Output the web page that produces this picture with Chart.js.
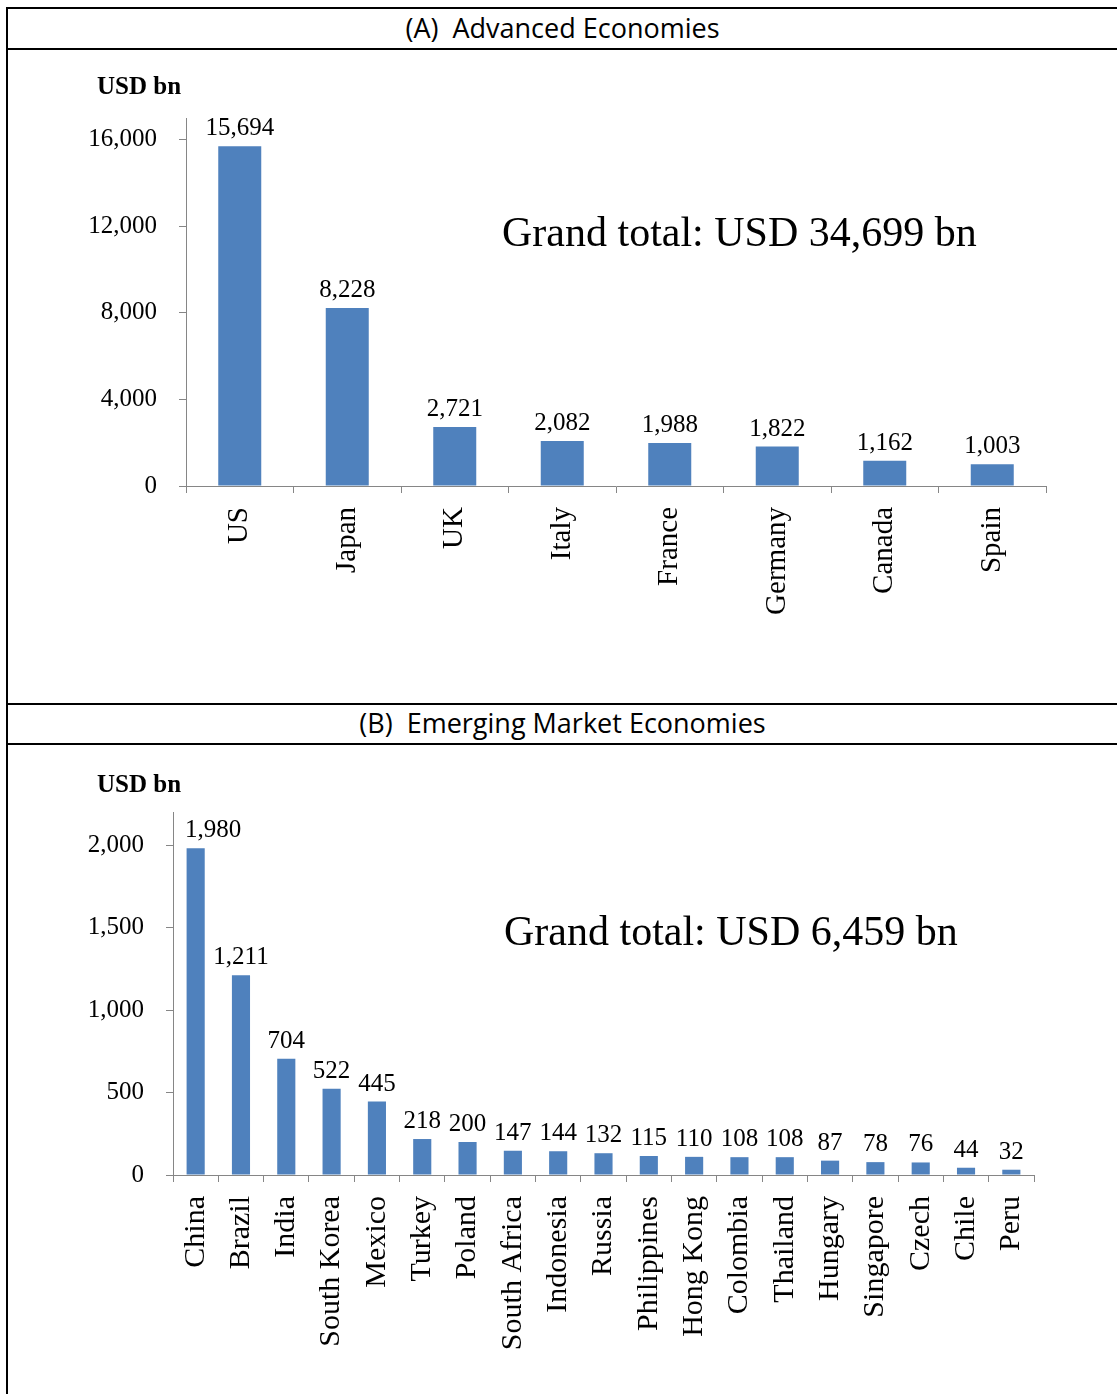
<!DOCTYPE html>
<html>
<head>
<meta charset="utf-8">
<script src="https://cdn.jsdelivr.net/npm/chart.js@4.4.1/dist/chart.umd.min.js"></script>
<style>
  body { margin: 0; background: #fff; width: 1117px; height: 1394px; position: relative; overflow: hidden; }
  .hline { position: absolute; left: 6px; right: 0; height: 2px; background: #000; }
  .vline { position: absolute; left: 6px; top: 7px; width: 2px; bottom: 0; background: #000; }
  .head { position: absolute; left: 8px; right: 0; text-align: center; font-family: "Open Sans", sans-serif; font-size: 27px; line-height: 36px; color: #000; }
  canvas { position: absolute; left: 8px; }
</style>
</head>
<body>
<div class="hline" style="top:7px"></div>
<div class="hline" style="top:48px"></div>
<div class="hline" style="top:703px"></div>
<div class="hline" style="top:743px"></div>
<div class="vline"></div>
<div class="head" style="top:10px">(A)&nbsp; Advanced Economies</div>
<div class="head" style="top:705px">(B)&nbsp; Emerging Market Economies</div>

<canvas id="chartA" width="1109" height="653" style="top:50px"></canvas>
<canvas id="chartB" width="1109" height="649" style="top:745px"></canvas>

<script>
// panel A - advanced economies
const advCountries = ["US", "Japan", "UK", "Italy", "France", "Germany", "Canada", "Spain"];
const advValues = [15694, 8228, 2721, 2082, 1988, 1822, 1162, 1003];
const advTicks = [0, 4000, 8000, 12000, 16000];
const advTotal = "Grand total: USD 34,699 bn";

// panel B - emerging market economies
const emCountries = ["China", "Brazil", "India", "South Korea", "Mexico", "Turkey", "Poland",
  "South Africa", "Indonesia", "Russia", "Philippines", "Hong Kong", "Colombia", "Thailand",
  "Hungary", "Singapore", "Czech", "Chile", "Peru"];
const emValues = [1980, 1211, 704, 522, 445, 218, 200, 147, 144, 132, 115, 110, 108, 108, 87, 78, 76, 44, 32];
const emTicks = [0, 500, 1000, 1500, 2000];
const emTotal = "Grand total: USD 6,459 bn";

const serif = "'Liberation Serif', 'Times New Roman', serif";
const axisGrey = "#868686";

function makeChart(id, labels, values, ticks, yMax, opt) {
  // draws value labels over bars + unit label + grand total
  const extraText = {
    id: "extraText",
    afterDatasetsDraw: (chart) => {
      const ctx = chart.ctx;
      ctx.save();
      ctx.fillStyle = "#000";
      ctx.textAlign = "center";
      ctx.textBaseline = "alphabetic";
      ctx.font = "25px " + serif;
      chart.getDatasetMeta(0).data.forEach((bar, i) => {
        const txt = values[i].toLocaleString("en-US");
        const w = ctx.measureText(txt).width;
        // keep the label clear of the y axis line
        const x = Math.max(bar.x, chart.chartArea.left + 12 + w / 2);
        ctx.fillText(txt, x, bar.y - 11);
      });
      ctx.textAlign = "left";
      ctx.font = "bold 25px " + serif;
      ctx.fillText("USD bn", 89, opt.unitY);
      ctx.font = "42px " + serif;
      ctx.fillText(opt.total, opt.totalX, opt.totalY);
      ctx.restore();
    },
  };

  return new Chart(document.getElementById(id), {
    type: "bar",
    data: {
      labels: labels,
      datasets: [
        {
          data: values,
          backgroundColor: "#4F81BD",
          barPercentage: 0.4,
          categoryPercentage: 1,
        },
      ],
    },
    plugins: [extraText],
    options: {
      responsive: false,
      animation: false,
      layout: { padding: { top: opt.top, right: opt.right, left: 0, bottom: 0 } },
      plugins: {
        legend: { display: false },
        tooltip: { enabled: false },
      },
      scales: {
        x: {
          grid: {
            offset: true,
            drawOnChartArea: false,
            tickLength: 7,
            color: axisGrey,
          },
          border: { color: axisGrey },
          ticks: {
            color: "#000",
            font: { family: serif, size: opt.xFont },
            minRotation: 90,
            maxRotation: 90,
            autoSkip: false,
            padding: 14,
          },
          afterFit: (scale) => {
            scale.height = opt.xHeight;
          },
        },
        y: {
          min: 0,
          max: yMax,
          grid: {
            drawOnChartArea: false,
            tickLength: 7,
            color: axisGrey,
          },
          border: { color: axisGrey },
          ticks: {
            color: "#000",
            font: { family: serif, size: 25 },
            padding: 22,
            callback: (v) => v.toLocaleString("en-US"),
          },
          afterBuildTicks: (scale) => {
            scale.ticks = ticks.map((v) => ({ value: v }));
          },
          afterFit: (scale) => {
            scale.width = opt.yWidth;
          },
        },
      },
    },
  });
}

makeChart("chartA", advCountries, advValues, advTicks, 17000, {
  top: 68, right: 71, yWidth: 178, xHeight: 217, xFont: 29,
  unitY: 44, total: advTotal, totalX: 494, totalY: 196,
});

makeChart("chartB", emCountries, emValues, emTicks, 2200, {
  top: 67, right: 83, yWidth: 165, xHeight: 219, xFont: 30,
  unitY: 47, total: emTotal, totalX: 496, totalY: 200,
});
</script>
</body>
</html>
